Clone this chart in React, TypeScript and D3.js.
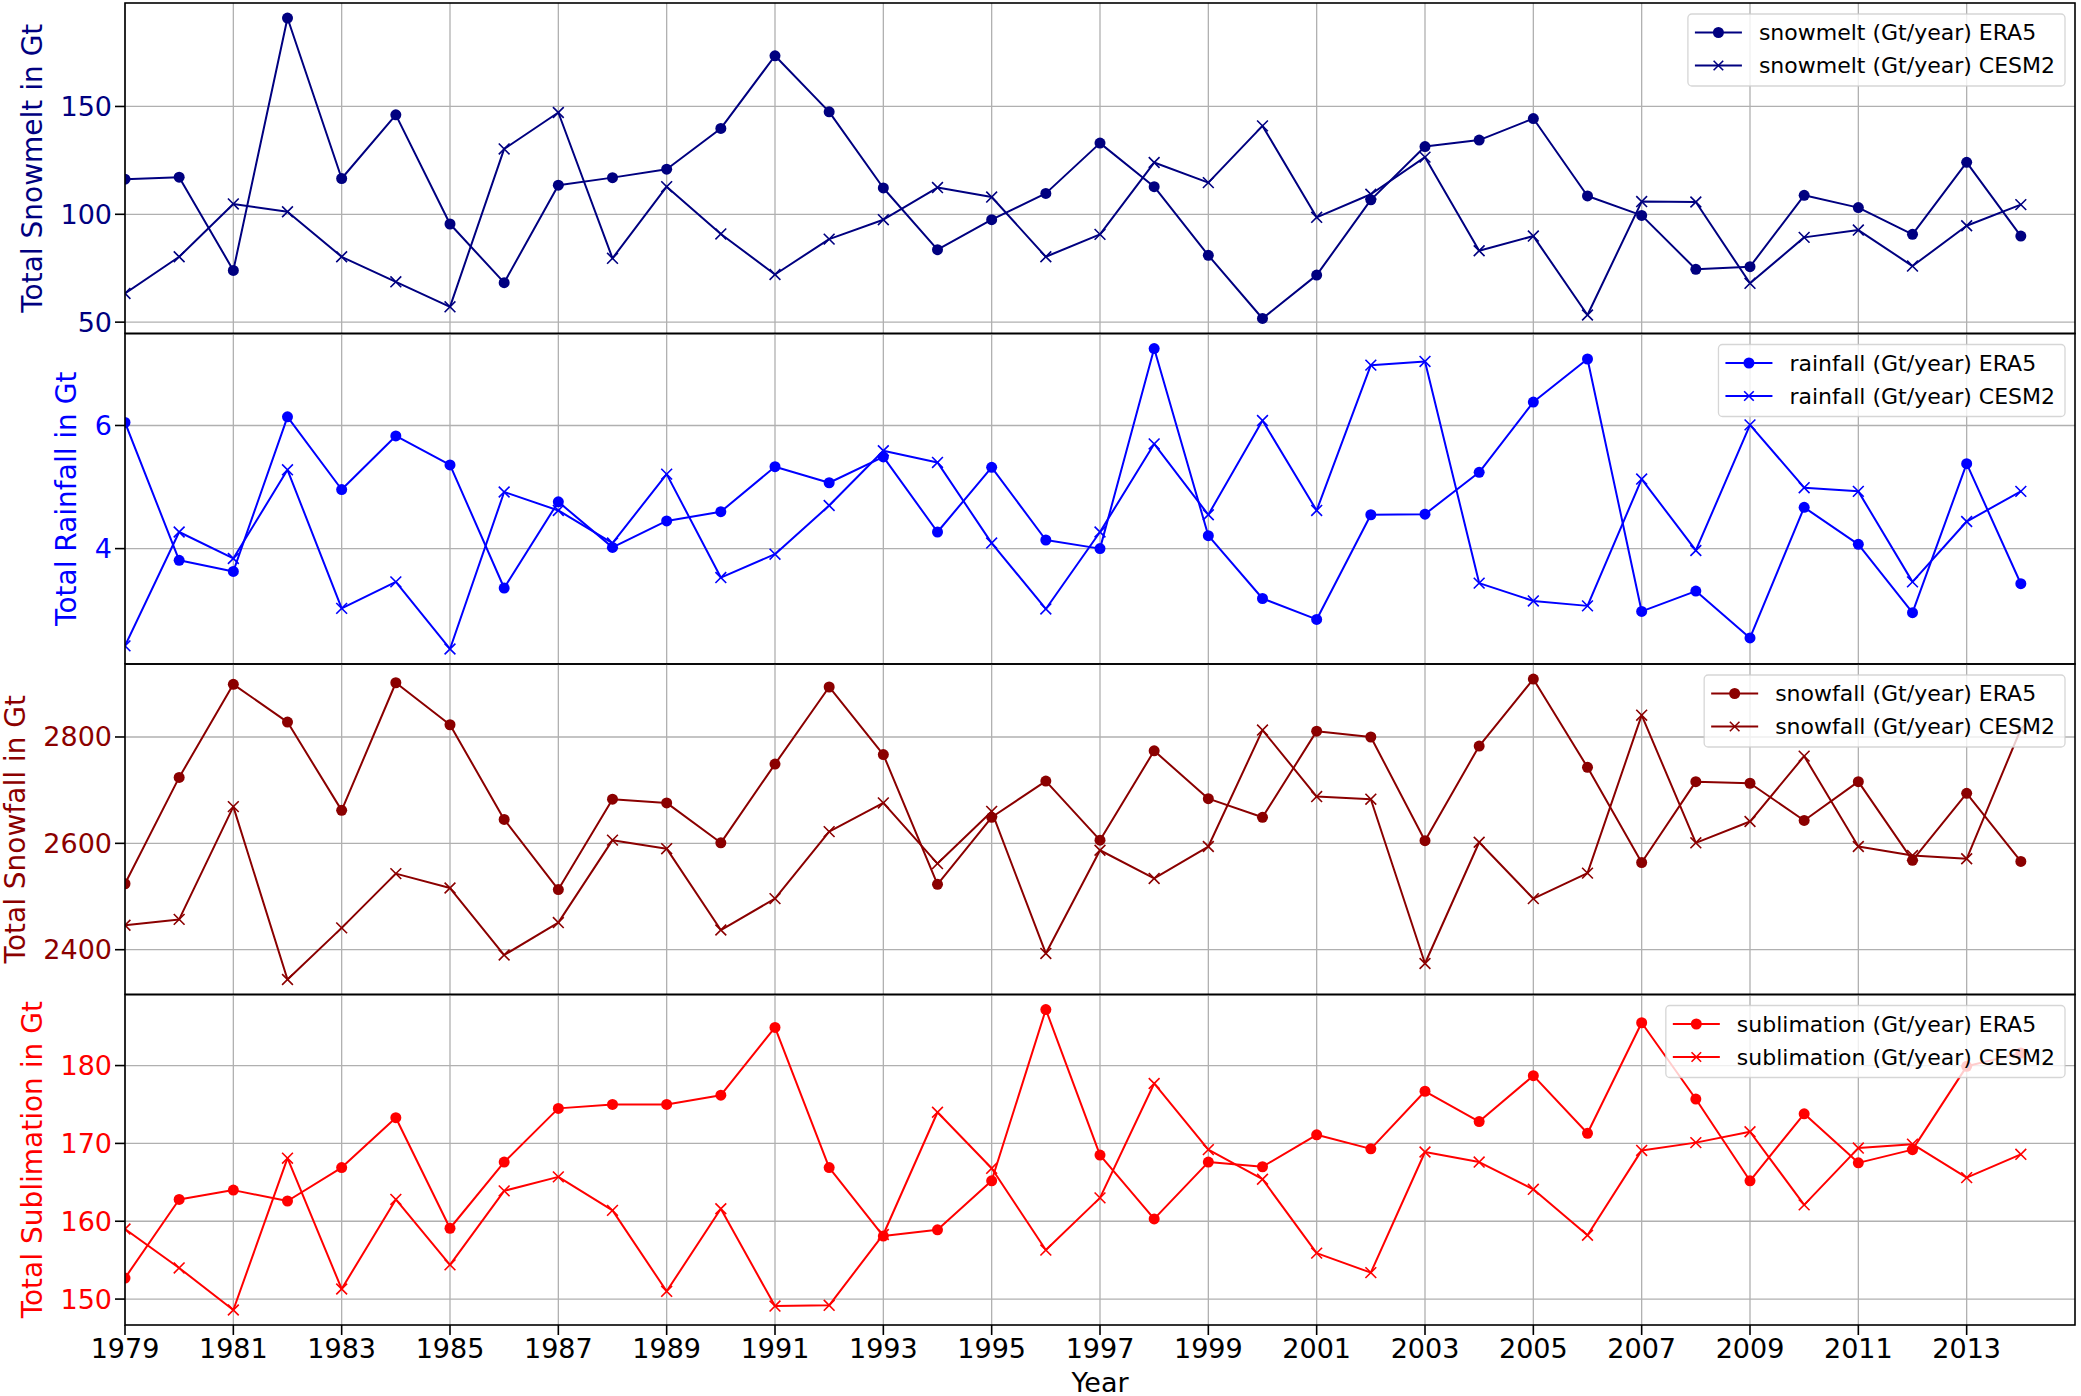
import React, { useMemo } from "react";
import * as d3 from "d3";

const years = [1979,1980,1981,1982,1983,1984,1985,1986,1987,1988,1989,1990,1991,1992,1993,1994,1995,1996,1997,1998,1999,2000,2001,2002,2003,2004,2005,2006,2007,2008,2009,2010,2011,2012,2013,2014];
const xTickYears = [1979,1981,1983,1985,1987,1989,1991,1993,1995,1997,1999,2001,2003,2005,2007,2009,2011,2013];

const snowmeltERA5 = [116.3,117.2,74.0,191.0,116.6,146.1,95.5,68.3,113.5,117.0,120.9,139.8,173.5,147.5,112.2,83.6,97.5,109.7,133.0,112.8,81.0,51.7,71.8,106.7,131.4,134.4,144.4,108.5,99.5,74.5,75.7,108.8,103.1,90.7,124.1,89.9];
const snowmeltCESM2 = [63.3,80.3,104.8,101.2,80.3,68.7,57.1,130.3,147.2,79.6,112.8,90.9,72.1,88.5,97.5,112.4,108.0,80.3,90.7,124.0,114.7,141.0,98.6,109.3,126.5,83.1,89.9,53.3,105.9,105.7,68.0,89.3,92.7,76.0,94.7,104.5];
const rainfallERA5 = [6.05,3.81,3.63,6.14,4.96,5.83,5.36,3.36,4.76,4.02,4.45,4.60,5.33,5.07,5.49,4.27,5.32,4.14,4.00,7.25,4.21,3.19,2.85,4.55,4.56,5.24,6.38,7.08,2.98,3.31,2.55,4.67,4.07,2.96,5.38,3.43];
const rainfallCESM2 = [2.42,4.27,3.84,5.28,3.03,3.46,2.37,4.92,4.62,4.09,5.21,3.53,3.91,4.70,5.59,5.40,4.09,3.02,4.27,5.70,4.55,6.08,4.62,6.98,7.04,3.44,3.15,3.07,5.13,3.97,6.01,4.99,4.93,3.46,4.44,4.93];
const snowfallERA5 = [2524,2724,2899,2828,2662,2902,2823,2645,2513,2683,2676,2601,2749,2894,2767,2523,2649,2717,2606,2774,2684,2649,2811,2800,2605,2783,2909,2743,2564,2716,2713,2643,2716,2568,2694,2566];
const snowfallCESM2 = [2446,2457,2669,2344,2441,2543,2516,2390,2451,2606,2590,2437,2496,2622,2676,2562,2660,2393,2587,2534,2594,2813,2688,2683,2374,2602,2496,2544,2841,2601,2641,2764,2594,2577,2571,2815];
const sublimationERA5 = [152.7,162.8,164.0,162.6,166.9,173.3,159.1,167.6,174.5,175.0,175.0,176.2,184.9,166.9,158.1,158.9,165.2,187.2,168.5,160.3,167.6,167.0,171.1,169.3,176.7,172.8,178.7,171.3,185.5,175.7,165.2,173.8,167.5,169.2,179.9,181.6];
const sublimationCESM2 = [159.0,154.0,148.6,168.1,151.3,162.8,154.4,163.9,165.7,161.4,151.0,161.6,149.1,149.2,158.3,174.0,166.8,156.3,163.0,177.7,169.2,165.4,155.9,153.4,168.9,167.6,164.1,158.2,169.1,170.1,171.5,162.1,169.4,169.9,165.6,168.6];

const varNames = ["snowmelt", "rainfall", "snowfall", "sublimation"];
const yLabels = ["Total Snowmelt in Gt", "Total Rainfall in Gt", "Total Snowfall in Gt", "Total Sublimation in Gt"];
const colors = ["#000080", "#0000ff", "#8b0000", "#ff0000"];
const yTicks = [[50, 100, 150], [4, 6], [2400, 2600, 2800], [150, 160, 170, 180]];
const era5Series = [snowmeltERA5, rainfallERA5, snowfallERA5, sublimationERA5];
const cesmSeries = [snowmeltCESM2, rainfallCESM2, snowfallCESM2, sublimationCESM2];

const W = 2081, H = 1396;
const LEFT = 125, RIGHT = 2075, TOP = 3, PH = 330.5;
const FONT = "'DejaVu Sans', Verdana, sans-serif";
const TICK_FS = 27, LABEL_FS = 28, LEG_FS = 22;

function measure(text: string, size: number): number {
  if (typeof document === "undefined") return text.length * size * 0.6;
  const c = document.createElement("canvas");
  const ctx = c.getContext("2d");
  if (!ctx) return text.length * size * 0.6;
  ctx.font = `${size}px 'DejaVu Sans'`;
  return ctx.measureText(text).width;
}

function XMarker({ x, y, color, s = 5.4 }: { x: number; y: number; color: string; s?: number }) {
  return (
    <path d={`M${x - s},${y - s}L${x + s},${y + s}M${x - s},${y + s}L${x + s},${y - s}`} stroke={color} strokeWidth={1.6} fill="none" />
  );
}

function Panel({ i }: { i: number }) {
  const top = TOP + i * PH;
  const bottom = top + PH;
  const color = colors[i];
  const era = era5Series[i];
  const ces = cesmSeries[i];
  const x = d3.scaleLinear().domain([1979, 2015]).range([LEFT, RIGHT]);
  const ext = d3.extent([...era, ...ces]) as [number, number];
  const pad = (ext[1] - ext[0]) * 0.05;
  const y = d3.scaleLinear().domain([ext[0] - pad, ext[1] + pad]).range([bottom, top]);
  const line = d3.line<number>().x((_, k) => x(years[k])).y((v) => y(v));
  const clipId = `clip${i}`;

  const tickTexts = yTicks[i].map((t) => String(t));
  const maxW = Math.max(...tickTexts.map((t) => measure(t, TICK_FS)));
  const labelX = Math.max(LEFT - 13 - maxW - 28, 15);

  const leg1 = `${varNames[i]} (Gt/year) ERA5`;
  const leg2 = `${varNames[i]} (Gt/year) CESM2`;
  const legTextW = Math.max(measure(leg1, LEG_FS), measure(leg2, LEG_FS));
  const legRight = RIGHT - 10;
  const legLeft = legRight - (71 + legTextW + 10);
  const legTop = top + 11;
  const legH = 72;

  return (
    <g>
      <defs>
        <clipPath id={clipId}>
          <rect x={LEFT} y={top} width={RIGHT - LEFT} height={PH} />
        </clipPath>
      </defs>
      {xTickYears.map((yr) => (
        <line key={"gx" + yr} x1={x(yr)} x2={x(yr)} y1={top} y2={bottom} stroke="#b0b0b0" strokeWidth={1.3} />
      ))}
      {yTicks[i].map((t) => (
        <line key={"gy" + t} x1={LEFT} x2={RIGHT} y1={y(t)} y2={y(t)} stroke="#b0b0b0" strokeWidth={1.3} />
      ))}
      <g clipPath={`url(#${clipId})`}>
        <path d={line(era) || ""} fill="none" stroke={color} strokeWidth={2} strokeLinejoin="round" />
        {era.map((v, k) => (
          <circle key={"e" + k} cx={x(years[k])} cy={y(v)} r={5.5} fill={color} />
        ))}
        <path d={line(ces) || ""} fill="none" stroke={color} strokeWidth={2} strokeLinejoin="round" />
        {ces.map((v, k) => (
          <XMarker key={"c" + k} x={x(years[k])} y={y(v)} color={color} />
        ))}
      </g>
      {yTicks[i].map((t) => (
        <g key={"yt" + t}>
          <line x1={LEFT - 10} x2={LEFT} y1={y(t)} y2={y(t)} stroke="#000" strokeWidth={1.6} />
          <text x={LEFT - 13} y={y(t)} textAnchor="end" dominantBaseline="central" fontSize={TICK_FS} fontFamily={FONT} fill={color}>
            {t}
          </text>
        </g>
      ))}
      <text
        transform={`translate(${labelX},${(top + bottom) / 2}) rotate(-90)`}
        textAnchor="middle"
        dominantBaseline="central"
        fontSize={LABEL_FS}
        fontFamily={FONT}
        fill={color}
      >
        {yLabels[i]}
      </text>
      <rect x={legLeft} y={legTop} width={legRight - legLeft} height={legH} rx={4} ry={4} fill="#ffffff" fillOpacity={0.8} stroke="#cccccc" strokeOpacity={0.8} strokeWidth={1.3} />
      <line x1={legLeft + 7} x2={legLeft + 54} y1={legTop + 18.5} y2={legTop + 18.5} stroke={color} strokeWidth={2} />
      <circle cx={legLeft + 30.5} cy={legTop + 18.5} r={5.5} fill={color} />
      <text x={legLeft + 71} y={legTop + 18.5} dominantBaseline="central" fontSize={LEG_FS} fontFamily={FONT} fill="#000">
        {leg1}
      </text>
      <line x1={legLeft + 7} x2={legLeft + 54} y1={legTop + 51.5} y2={legTop + 51.5} stroke={color} strokeWidth={2} />
      <XMarker x={legLeft + 30.5} y={legTop + 51.5} color={color} s={4.8} />
      <text x={legLeft + 71} y={legTop + 51.5} dominantBaseline="central" fontSize={LEG_FS} fontFamily={FONT} fill="#000">
        {leg2}
      </text>
      <rect x={LEFT} y={top} width={RIGHT - LEFT} height={PH} fill="none" stroke="#000" strokeWidth={1.6} />
    </g>
  );
}

export default function App() {
  const x = useMemo(() => d3.scaleLinear().domain([1979, 2015]).range([LEFT, RIGHT]), []);
  const bottom = TOP + 4 * PH;
  return (
    <svg width={W} height={H} style={{ position: "absolute", left: 0, top: 0, background: "#fff" }} xmlns="http://www.w3.org/2000/svg">
      <rect x={0} y={0} width={W} height={H} fill="#fff" />
      {[0, 1, 2, 3].map((i) => (
        <Panel key={i} i={i} />
      ))}
      {xTickYears.map((yr) => (
        <g key={"xt" + yr}>
          <line x1={x(yr)} x2={x(yr)} y1={bottom} y2={bottom + 10} stroke="#000" strokeWidth={1.6} />
          <text x={x(yr)} y={bottom + 33} textAnchor="middle" fontSize={TICK_FS} fontFamily={FONT} fill="#000">
            {yr}
          </text>
        </g>
      ))}
      <text x={(LEFT + RIGHT) / 2} y={bottom + 66.5} textAnchor="middle" fontSize={TICK_FS} fontFamily={FONT} fill="#000">
        Year
      </text>
    </svg>
  );
}
